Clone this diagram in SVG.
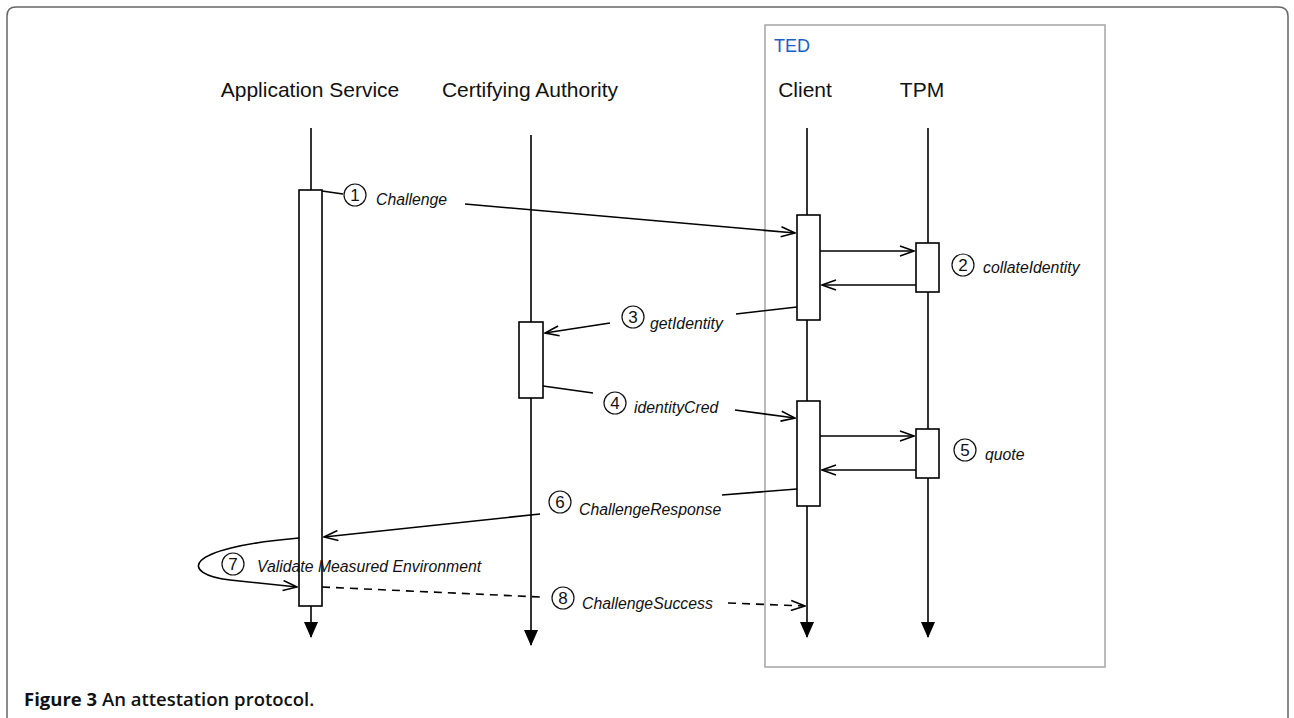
<svg xmlns="http://www.w3.org/2000/svg" width="1294" height="718" viewBox="0 0 1294 718">
<defs>
<marker id="open" markerWidth="16" markerHeight="12" refX="15" refY="6" orient="auto" markerUnits="userSpaceOnUse">
<path d="M1,1 L15,6 L1,11" fill="none" stroke="#000" stroke-width="1.6"/>
</marker>
<marker id="solid" markerWidth="14" markerHeight="16" refX="7" refY="15" orient="0" markerUnits="userSpaceOnUse">
<path d="M0,0 L14,0 L7,16 Z" fill="#000"/>
</marker>
</defs>
<style>
.hdr{font-family:"Liberation Sans",Arial,sans-serif;font-size:21px;fill:#111;}
.lbl{font-family:"Liberation Sans",Arial,sans-serif;font-size:15.8px;font-style:italic;fill:#111;}
.num{font-family:"Liberation Sans",Arial,sans-serif;font-size:17px;fill:#111;text-anchor:middle;}
.circ{fill:none;stroke:#111;stroke-width:1.2;}
.life{stroke:#000;stroke-width:1.6;fill:none;}
.act{fill:#fff;stroke:#000;stroke-width:1.6;}
.msg{stroke:#000;stroke-width:1.6;fill:none;}
.dash{stroke:#000;stroke-width:1.6;fill:none;stroke-dasharray:8,6;}
</style>
<rect width="1294" height="718" fill="#fff"/>
<path d="M7,718 L7,16 Q7,7 16,7 L1278,7 Q1288,7 1288,16 L1288,718" fill="none" stroke="#666" stroke-width="1.5"/>
<g id="ted">
<rect x="765" y="25" width="340" height="642" fill="none" stroke="#aaa" stroke-width="1.6"/>
<text x="774" y="52" font-family="Liberation Sans,Arial,sans-serif" font-size="18" fill="#1a5fc4">TED</text>
</g>
<g id="app-service">
<text class="hdr" x="310" y="97" text-anchor="middle">Application Service</text>
<line class="life" x1="311" y1="128" x2="311" y2="637" marker-end="url(#solid)"/>
<rect class="act" x="299" y="190" width="23" height="416"/>
</g>
<g id="cert-authority">
<text class="hdr" x="530" y="97" text-anchor="middle">Certifying Authority</text>
<line class="life" x1="531" y1="135" x2="531" y2="645" marker-end="url(#solid)"/>
<rect class="act" x="519" y="322" width="24" height="76"/>
</g>
<g id="client">
<text class="hdr" x="805" y="97" text-anchor="middle">Client</text>
<line class="life" x1="807" y1="128" x2="807" y2="637" marker-end="url(#solid)"/>
<rect class="act" x="797" y="215" width="23" height="105"/>
<rect class="act" x="797" y="401" width="23" height="105"/>
</g>
<g id="tpm">
<text class="hdr" x="922" y="97" text-anchor="middle">TPM</text>
<line class="life" x1="928" y1="128" x2="928" y2="637" marker-end="url(#solid)"/>
<rect class="act" x="916" y="243" width="23" height="49"/>
<rect class="act" x="916" y="429" width="23" height="49"/>
</g>
<g id="connectors">
<line class="msg" x1="322" y1="191" x2="343" y2="194"/>
<line class="msg" x1="465" y1="204" x2="795" y2="233" marker-end="url(#open)"/>
<line class="msg" x1="820" y1="251" x2="914" y2="251" marker-end="url(#open)"/>
<line class="msg" x1="916" y1="285" x2="822" y2="285" marker-end="url(#open)"/>
<line class="msg" x1="797" y1="307" x2="736" y2="314"/>
<line class="msg" x1="610" y1="323" x2="545" y2="333" marker-end="url(#open)"/>
<line class="msg" x1="543" y1="386" x2="593" y2="393"/>
<line class="msg" x1="735" y1="410" x2="795" y2="418" marker-end="url(#open)"/>
<line class="msg" x1="820" y1="436" x2="914" y2="436" marker-end="url(#open)"/>
<line class="msg" x1="916" y1="470" x2="822" y2="470" marker-end="url(#open)"/>
<line class="msg" x1="797" y1="489" x2="722" y2="495"/>
<line class="msg" x1="540" y1="514" x2="324" y2="537" marker-end="url(#open)"/>
<path class="msg" d="M299,538 C180,548 180,574 230,580 L297,587" marker-end="url(#open)"/>
<line class="dash" x1="322" y1="587" x2="540" y2="597"/>
<line class="dash" x1="728" y1="603" x2="805" y2="606" marker-end="url(#open)"/>
</g>
<g id="label-1"><circle class="circ" cx="355" cy="195" r="11"/><text class="num" x="355" y="201">1</text><text class="lbl" x="376" y="205">Challenge</text></g>
<g id="label-2"><circle class="circ" cx="963" cy="265" r="11"/><text class="num" x="963" y="271">2</text><text class="lbl" x="983" y="273">collateIdentity</text></g>
<g id="label-3"><circle class="circ" cx="633" cy="317" r="11"/><text class="num" x="633" y="323">3</text><text class="lbl" x="650" y="329">getIdentity</text></g>
<g id="label-4"><circle class="circ" cx="615" cy="403" r="11"/><text class="num" x="615" y="409">4</text><text class="lbl" x="634" y="413">identityCred</text></g>
<g id="label-5"><circle class="circ" cx="965" cy="450" r="11"/><text class="num" x="965" y="456">5</text><text class="lbl" x="985" y="460">quote</text></g>
<g id="label-6"><circle class="circ" cx="560" cy="502" r="11"/><text class="num" x="560" y="508">6</text><text class="lbl" x="579" y="515">ChallengeResponse</text></g>
<g id="label-7"><circle class="circ" cx="233" cy="564" r="11"/><text class="num" x="233" y="570">7</text><text class="lbl" x="257" y="572">Validate Measured Environment</text></g>
<g id="label-8"><circle class="circ" cx="563" cy="598" r="11"/><text class="num" x="563" y="604">8</text><text class="lbl" x="582" y="609">ChallengeSuccess</text></g>
<text x="24" y="706" font-family="'Open Sans','Liberation Sans',sans-serif" font-size="18.5" font-weight="600" fill="#111"><tspan font-weight="700">Figure 3</tspan> An attestation protocol.</text>
</svg>
